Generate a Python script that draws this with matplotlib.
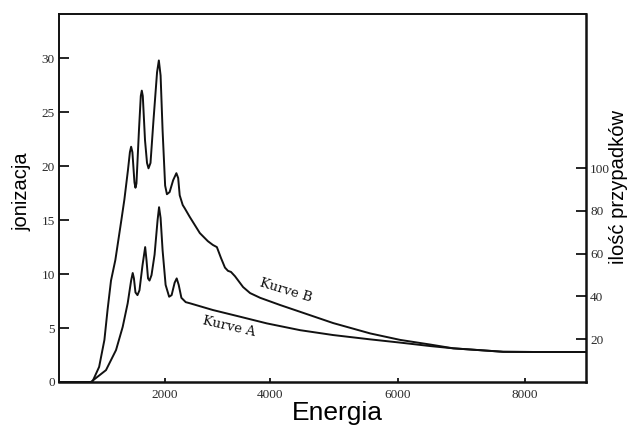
"""Ionisation curves A and B vs energy (scanned-figure look)."""

import matplotlib

matplotlib.use("Agg")
import matplotlib.pyplot as plt
import numpy as np

# Kurve B (upper curve), energy vs ionisation
energy_b = [0, 630, 760, 860, 920, 985, 1067, 1181, 1238, 1305, 1343, 1366, 1390,
            1429, 1448, 1467, 1514, 1549, 1568, 1587, 1629, 1667, 1695, 1733, 1790,
            1857, 1891, 1924, 1962, 2010, 2044, 2095, 2162, 2223, 2257, 2286, 2343,
            2381, 2476, 2667, 2819, 2914, 2990, 3067, 3143, 3200, 3257, 3333, 3486,
            3619, 3810, 4157, 4471, 4988, 5569, 6039, 6510, 6871, 7655, 8188, 8950]
kurve_b = [0, 0, 1.4, 3.9, 6.7, 9.4, 11.3, 15.0, 16.9, 19.6, 21.3, 21.8, 21.3,
           18.5, 18.0, 18.4, 23.3, 26.5, 27.0, 26.5, 22.4, 20.3, 19.8, 20.3, 24.3,
           28.7, 29.8, 28.4, 23.3, 18.2, 17.4, 17.6, 18.7, 19.35, 18.9, 17.3, 16.4,
           16.1, 15.3, 13.8, 13.05, 12.7, 12.5, 11.5, 10.6, 10.3, 10.2, 9.8, 8.8,
           8.24, 7.8, 7.13, 6.5, 5.46, 4.5, 3.9, 3.47, 3.12, 2.8, 2.78, 2.78]

# Kurve A (lower curve)
energy_a = [0, 604, 890, 1080, 1206, 1301, 1366, 1396, 1419, 1448, 1486, 1524, 1581,
            1632, 1657, 1686, 1714, 1752, 1810, 1867, 1895, 1924, 1962, 2019, 2086,
            2133, 2190, 2229, 2267, 2318, 2400, 2476, 2914, 3429, 3937, 4471, 4988,
            5569, 6039, 6510, 6871, 7655, 8188, 8950]
kurve_a = [0, 0, 1.1, 2.96, 5.1, 7.3, 9.4, 10.1, 9.6, 8.3, 8.05, 8.5, 10.8,
           12.5, 11.3, 9.6, 9.4, 9.9, 11.8, 15.0, 16.2, 15.2, 12.2, 9.0, 7.9,
           8.05, 9.2, 9.6, 9.0, 7.8, 7.4, 7.3, 6.67, 6.05, 5.43, 4.8, 4.35,
           3.95, 3.65, 3.33, 3.12, 2.8, 2.78, 2.78]

x_ticks = [2000, 4000, 6000, 8000]
left_ticks = [0, 5, 10, 15, 20, 25, 30]
right_ticks = [20, 40, 60, 80, 100]

# the hand-drawn energy axis is stretched above 4000
STRETCH = 1.2075


def fwd(e):
    e = np.asarray(e, dtype=float)
    return np.where(e <= 4000, e, 4000 + (e - 4000) * STRETCH)


def inv(u):
    u = np.asarray(u, dtype=float)
    return np.where(u <= 4000, u, 4000 + (u - 4000) / STRETCH)


tick_font = {"family": "Liberation Serif", "size": 9.5, "color": "#2a2a2a"}

fig = plt.figure(figsize=(6.34, 4.25), dpi=100)
ax = fig.add_axes([59 / 634, 43 / 425, 527 / 634, 368 / 425])
ax.set_xscale("function", functions=(fwd, inv))

ax.plot(energy_b, kurve_b, color="#111111", linewidth=1.4, clip_on=False)
ax.plot(energy_a, kurve_a, color="#111111", linewidth=1.4, clip_on=False)

ax.set_xlim(0, 8953)
ax.set_ylim(0, 34.1)
ax.set_xticks(x_ticks)
ax.set_xticklabels([str(t) for t in x_ticks], fontdict=tick_font)
ax.set_yticks(left_ticks)
ax.set_yticklabels([str(t) for t in left_ticks], fontdict=tick_font)
ax.tick_params(axis="x", direction="in", length=3, width=1.2, pad=5)
ax.tick_params(axis="y", direction="in", length=7, width=1.2, pad=3)
for side, sp in ax.spines.items():
    sp.set_linewidth(1.8 if side in ("bottom", "right") else 1.4)
    sp.set_color("#111111")

ax2 = ax.twinx()
ax2.set_ylim(0, 172)
ax2.set_yticks(right_ticks)
ax2.set_yticklabels([str(t) for t in right_ticks], fontdict=tick_font)
ax2.tick_params(axis="y", direction="in", length=7, width=1.2, pad=3)
for sp in ax2.spines.values():
    sp.set_visible(False)

ax.text(4250, 8.5, "Kurve B", rotation=-17, ha="center", va="center",
        family="DejaVu Serif", fontsize=9.5, color="#111111")
ax.text(3226, 5.15, "Kurve A", rotation=-13, ha="center", va="center",
        family="DejaVu Serif", fontsize=9.5, color="#111111")

fig.text(337 / 634, 5 / 425, "Energia", ha="center", va="baseline",
         family="Liberation Sans", fontsize=19)
fig.text(22 / 634, 1 - 192 / 425, "jonizacja", rotation=90, ha="center", va="center",
         family="Liberation Sans", fontsize=14.5)
fig.text(619 / 634, 1 - 187 / 425, "ilość przypadków", rotation=90, ha="center",
         va="center", family="Liberation Sans", fontsize=14.5)

fig.savefig("out.png", dpi=100)
